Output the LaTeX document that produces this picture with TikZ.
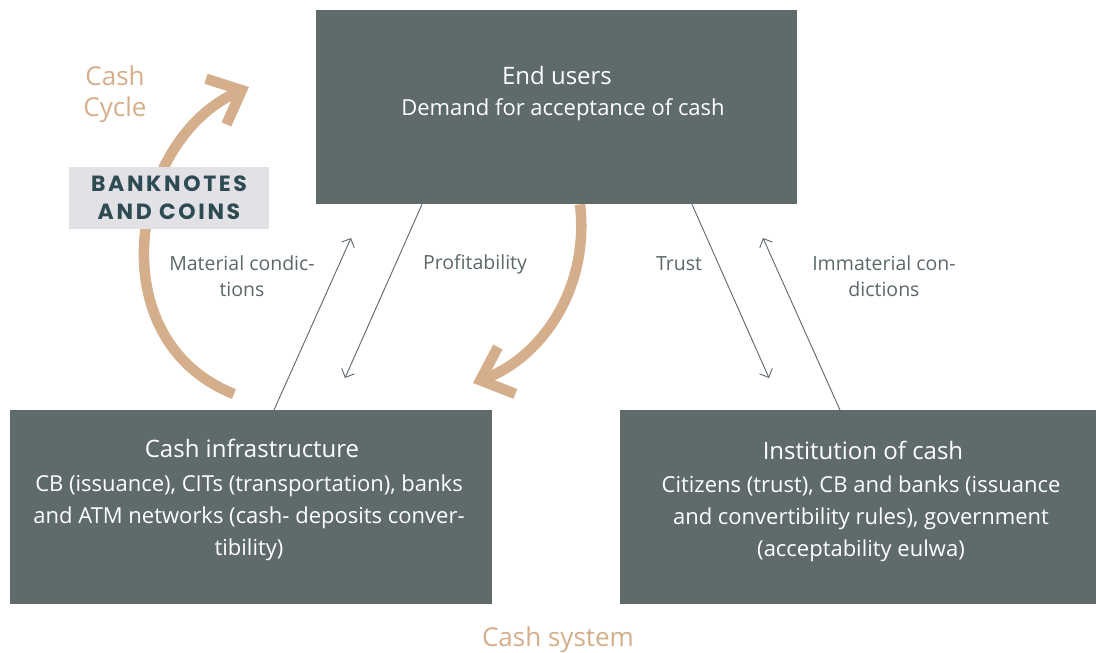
\documentclass[tikz,border=0pt]{standalone}
\usepackage{fontspec}
\setmainfont{Open Sans}
\newfontfamily\bankfont[LetterSpace=12]{Poppins}
\usetikzlibrary{arrows.meta}
\definecolor{boxgray}{HTML}{5F6B6B}
\definecolor{tancol}{HTML}{D5AF8B}
\definecolor{linegray}{HTML}{5C6868}
\definecolor{labelbg}{HTML}{E2E2E6}
\definecolor{bankteal}{HTML}{2E4A52}
\begin{document}
\begin{tikzpicture}[x=1pt,y=-1pt,
  box/.style={fill=boxgray, draw=none, minimum height=194pt, inner sep=0pt, anchor=north west},
  titletext/.style={text=white, font=\fontsize{24}{28}\selectfont, inner sep=0pt},
  bodytext/.style={text=white, font=\fontsize{22}{32}\selectfont, align=center, inner sep=0pt},
  lbl/.style={text=linegray, font=\fontsize{19.5}{26}\selectfont, align=center, inner sep=0pt},
  conn/.style={draw=linegray, line width=0.9pt, -{Straight Barb[length=7pt,width=14pt]}},
  tanarrow/.style={draw=tancol, line width=10.5pt, -{Straight Barb[length=28pt,width=50pt]}, line join=miter},
  tantext/.style={text=tancol, align=center, inner sep=0pt}
]
\useasboundingbox (0,0) rectangle (1096,653);
\fill[white] (0,0) rectangle (1096,653);

% boxes
\node[box, minimum width=481pt] (end) at (316,10) {};
\node[box, minimum width=482pt] (infra) at (10,410) {};
\node[box, minimum width=476pt] (inst) at (620,410) {};

% box texts
\node[titletext] (endt) at (557,75) {End users};
\node[bodytext] (endb) at (563,110) {Demand for acceptance of cash};
\node[titletext] (infrat) at (252,448) {Cash infrastructure};
\node[bodytext] (infrab) at (249,518) {CB (issuance), CITs (transportation), banks\\and ATM networks (cash- deposits conver-\\tibility)};
\node[titletext] (instt) at (863,450) {Institution of cash};
\node[bodytext] (instb) at (861,519) {Citizens (trust), CB and banks (issuance\\and convertibility rules), government\\(acceptability eulwa)};

% thin connectors
\coordinate (c1) at (345,378);
\coordinate (c2) at (351,238);
\coordinate (c3) at (769,378);
\coordinate (c4) at (763,238);
\draw[conn] ([xshift=106pt]end.south west) -- (c1);
\draw[conn] ([xshift=264pt]infra.north west) -- (c2);
\draw[conn] ([xshift=376pt]end.south west) -- (c3);
\draw[conn] ([xshift=220pt]inst.north west) -- (c4);

% connector labels
\node[lbl] (lmat) at (242,276) {Material condic-\\tions};
\node[lbl] (lprof) at (475,264) {Profitability};
\node[lbl] (ltrust) at (679,264) {Trust};
\node[lbl] (limm) at (884,276) {Immaterial con-\\dictions};

% tan cycle arrows
\coordinate (t1s) at (234,394);
\coordinate (t1e) at (249,87);
\coordinate (t2e) at (473,383);
\draw[tanarrow] (t1s) .. controls (98,340) and (130,140) .. (t1e);
\draw[tanarrow] ([xshift=264pt]end.south west) .. controls (590,290) and (540,358) .. (t2e);

% banknotes label
\node[fill=labelbg, minimum width=200pt, minimum height=62pt, inner sep=0pt] (bank) at (169,198) {};
\node[text=bankteal, font=\bankfont\bfseries\fontsize{22}{28}\selectfont, align=center, inner sep=0pt] (bankt) at (169,198) {BANKNOTES\\AND COINS};

\node[tantext, font=\fontsize{26}{31}\selectfont] (cycle) at (115,94) {Cash\\Cycle};
\node[tantext, font=\fontsize{26}{28}\selectfont] (system) at (558,640) {Cash system};
\end{tikzpicture}
\end{document}
